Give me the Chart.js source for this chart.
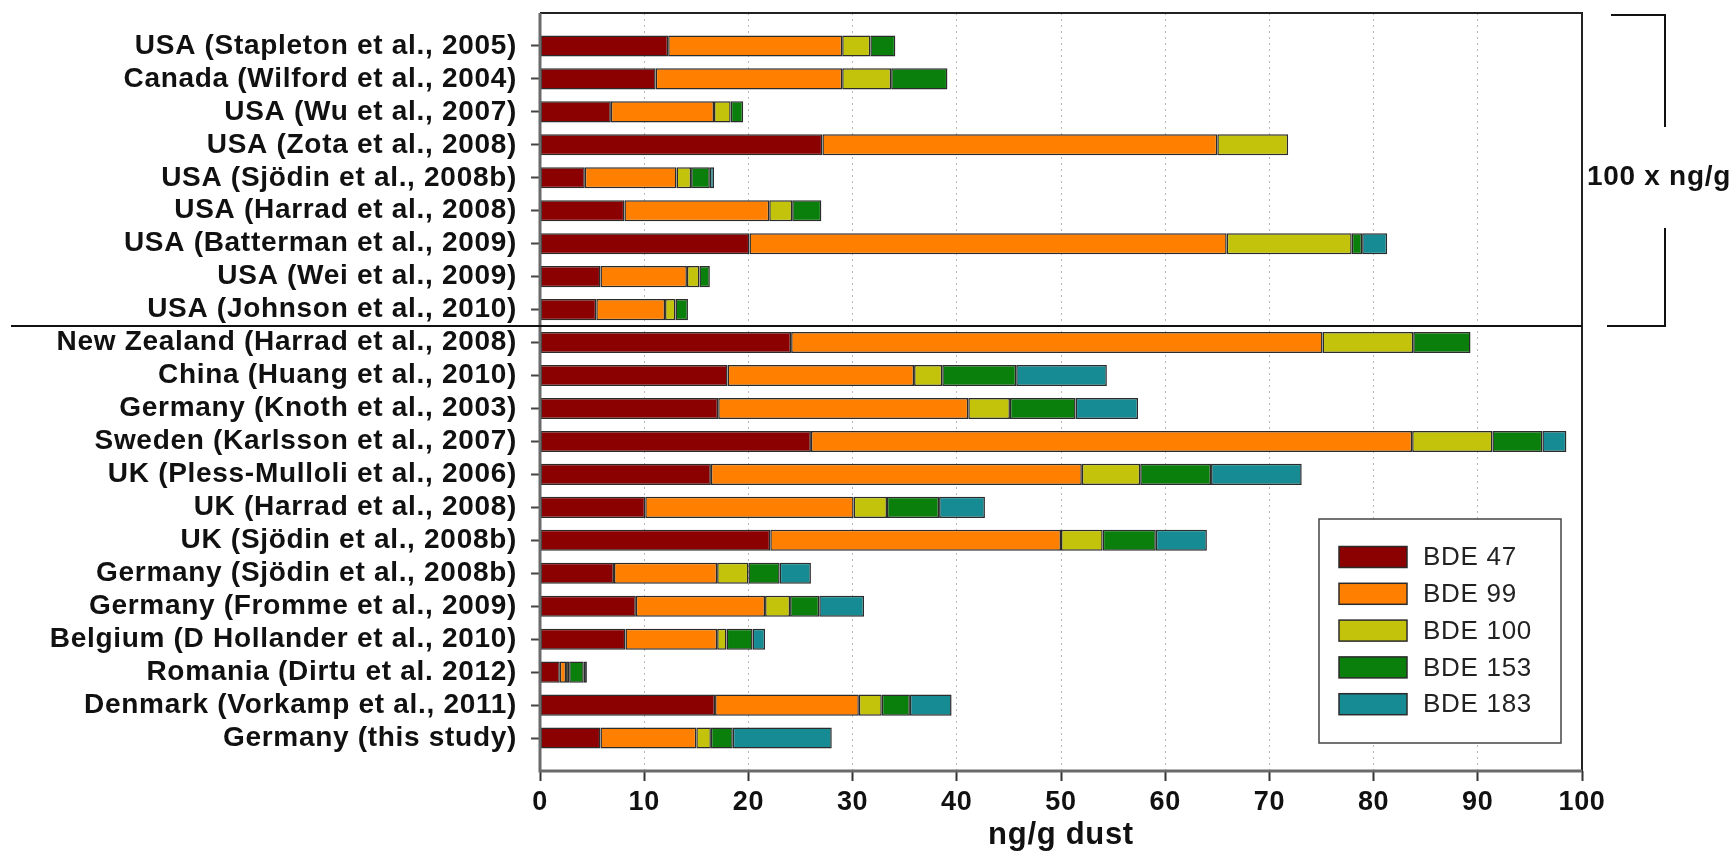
<!DOCTYPE html>
<html>
<head>
<meta charset="utf-8">
<script src="https://cdn.jsdelivr.net/npm/chart.js@4"></script>
<style>
  body { margin: 0; background: #fff; }
  canvas { display: block; }
</style>
</head>
<body>
<canvas id="chart" width="1733" height="856"></canvas>
<script>
// Studies, top to bottom (first 9 are plotted as 100 x ng/g)
const studies = [
    "USA (Stapleton et al., 2005)",
    "Canada (Wilford et al., 2004)",
    "USA (Wu et al., 2007)",
    "USA (Zota et al., 2008)",
    "USA (Sjödin et al., 2008b)",
    "USA (Harrad et al., 2008)",
    "USA (Batterman et al., 2009)",
    "USA (Wei et al., 2009)",
    "USA (Johnson et al., 2010)",
    "New Zealand (Harrad et al., 2008)",
    "China (Huang et al., 2010)",
    "Germany (Knoth et al., 2003)",
    "Sweden (Karlsson et al., 2007)",
    "UK (Pless-Mulloli et al., 2006)",
    "UK (Harrad et al., 2008)",
    "UK (Sjödin et al., 2008b)",
    "Germany (Sjödin et al., 2008b)",
    "Germany (Fromme et al., 2009)",
    "Belgium (D Hollander et al., 2010)",
    "Romania (Dirtu et al. 2012)",
    "Denmark (Vorkamp et al., 2011)",
    "Germany (this study)"
];

// Congener concentrations (ng/g dust)
const bde47  = [12.3, 11.1, 6.8, 27.1, 4.3, 8.1, 20.1, 5.8, 5.4, 24.1, 18.0, 17.1, 26.0, 16.4, 10.1, 22.1, 7.1, 9.2, 8.2, 1.9, 16.8, 5.8];
const bde99  = [16.7, 17.9, 9.9, 37.9, 8.8, 13.9, 45.8, 8.3, 6.6, 51.0, 17.9, 24.0, 57.7, 35.6, 20.0, 27.9, 9.9, 12.4, 8.8, 0.6, 13.8, 9.2];
const bde100 = [2.7, 4.7, 1.6, 6.8, 1.4, 2.2, 12.0, 1.2, 1.0, 8.7, 2.7, 4.0, 7.7, 5.6, 3.2, 4.0, 3.0, 2.4, 0.9, 0.3, 2.2, 1.4];
const bde153 = [2.4, 5.4, 1.2, null, 1.8, 2.8, 1.0, 1.0, 1.2, 5.5, 7.1, 6.3, 4.8, 6.8, 5.0, 5.1, 3.0, 2.8, 2.5, 1.4, 2.7, 2.1];
const bde183 = [null, null, null, null, 0.4, null, 2.4, null, null, null, 8.7, 6.0, 2.3, 8.7, 4.4, 4.9, 3.0, 4.3, 1.2, 0.3, 4.0, 9.5];

const seriesNames = ["BDE 47", "BDE 99", "BDE 100", "BDE 153", "BDE 183"];
const seriesColors = ["#8b0000", "#ff8000", "#c3c30c", "#0b7f0b", "#168b94"];
const xTicks = [0, 10, 20, 30, 40, 50, 60, 70, 80, 90, 100];
const scaledCount = 9; // rows shown as 100 x ng/g

const FONT = "'Liberation Sans', Arial, sans-serif";

// pad one empty slot at each end so rows sit like the original
const labels = ["", ...studies, ""];
const pad = arr => [null, ...arr, null];

const datasets = [bde47, bde99, bde100, bde153, bde183].map((vals, i) => ({
    label: seriesNames[i],
    data: pad(vals),
    backgroundColor: seriesColors[i],
    borderColor: "#2b2b2b",
    borderWidth: 1.5,
    borderSkipped: false,
    categoryPercentage: 0.64,
    barPercentage: 1.0
}));

// the original figure is a bit wide, stretch the text a little
const wideText = {
    id: "wideText",
    beforeDraw(chart) {
        chart.ctx.letterSpacing = "0.7px";
    }
};

// Frame, separator, bracket and legend
const decorations = {
    id: "decorations",
    afterDatasetsDraw(chart) {
        const ctx = chart.ctx;
        const a = chart.chartArea;
        const y = chart.scales.y;
        ctx.save();

        // plot frame
        ctx.lineWidth = 2;
        ctx.strokeStyle = "#222";
        ctx.beginPath();
        ctx.moveTo(a.left, a.top);
        ctx.lineTo(a.right, a.top);
        ctx.lineTo(a.right, a.bottom);
        ctx.stroke();
        ctx.lineWidth = 3;
        ctx.strokeStyle = "#6a6a6a";
        ctx.beginPath();
        ctx.moveTo(a.left, a.top);
        ctx.lineTo(a.left, a.bottom);
        ctx.lineTo(a.right, a.bottom);
        ctx.stroke();

        // separator between the two groups
        const sepY = (y.getPixelForValue(scaledCount) + y.getPixelForValue(scaledCount + 1)) / 2;
        ctx.lineWidth = 2;
        ctx.strokeStyle = "#111";
        ctx.beginPath();
        ctx.moveTo(11, sepY);
        ctx.lineTo(a.right, sepY);
        ctx.stroke();

        // bracket for the 100 x ng/g group
        const bx = a.right + 83;
        const topY = a.top + 2;
        const midY = 177;
        ctx.beginPath();
        ctx.moveTo(a.right + 29, topY);
        ctx.lineTo(bx, topY);
        ctx.lineTo(bx, midY - 50);
        ctx.moveTo(bx, midY + 51);
        ctx.lineTo(bx, sepY);
        ctx.lineTo(a.right + 25, sepY);
        ctx.stroke();
        ctx.fillStyle = "#111";
        ctx.font = "bold 28px " + FONT;
        ctx.textAlign = "center";
        ctx.textBaseline = "middle";
        ctx.fillText("100 x ng/g", bx - 6, midY);

        // legend box
        const lx = a.right - 263, ly = a.bottom - 252;
        const lw = 242, lh = 224;
        ctx.fillStyle = "#fff";
        ctx.fillRect(lx, ly, lw, lh);
        ctx.lineWidth = 1.5;
        ctx.strokeStyle = "#444";
        ctx.strokeRect(lx, ly, lw, lh);
        ctx.font = "26px " + FONT;
        ctx.textAlign = "left";
        chart.data.datasets.forEach((ds, i) => {
            const cy = ly + 38 + i * 36.8;
            ctx.fillStyle = ds.backgroundColor;
            ctx.fillRect(lx + 20, cy - 10.5, 68, 21);
            ctx.strokeStyle = "#2b2b2b";
            ctx.lineWidth = 1.5;
            ctx.strokeRect(lx + 20, cy - 10.5, 68, 21);
            ctx.fillStyle = "#222";
            ctx.fillText(ds.label, lx + 104, cy + 1);
        });
        ctx.restore();
    }
};

new Chart(document.getElementById("chart"), {
    type: "bar",
    data: { labels: labels, datasets: datasets },
    options: {
        indexAxis: "y",
        responsive: false,
        animation: false,
        devicePixelRatio: 1,
        layout: { padding: { top: 13, right: 151, bottom: 0, left: 0 } },
        plugins: {
            legend: { display: false },
            tooltip: { enabled: false }
        },
        scales: {
            x: {
                type: "linear",
                stacked: true,
                min: 0,
                max: 100,
                afterBuildTicks: scale => { scale.ticks = xTicks.map(v => ({ value: v })); },
                afterFit: scale => { scale.height = 85; },
                grid: {
                    color: "#b8b8b8",
                    lineWidth: 1,
                    drawTicks: true,
                    tickLength: 10,
                    tickColor: "#333",
                    tickWidth: 2
                },
                border: { display: false, dash: [2, 4] },
                ticks: {
                    color: "#111",
                    padding: 5,
                    maxRotation: 0,
                    font: { family: FONT, size: 27, weight: "bold" }
                },
                title: {
                    display: true,
                    text: "ng/g dust",
                    color: "#111",
                    padding: { top: 0, bottom: 5 },
                    font: { family: FONT, size: 31, weight: "bold", lineHeight: 1 }
                }
            },
            y: {
                type: "category",
                stacked: true,
                offset: false,
                afterFit: scale => {
                    scale.width = 540;
                    scale.paddingTop = 0;
                    scale.paddingBottom = 0;
                },
                grid: {
                    offset: false,
                    drawOnChartArea: false,
                    drawTicks: true,
                    tickLength: 9,
                    tickWidth: 2,
                    tickColor: c => (c.index === 0 || c.index > studies.length) ? "rgba(0,0,0,0)" : "#444"
                },
                border: { display: false },
                ticks: {
                    autoSkip: false,
                    color: "#111",
                    padding: 14,
                    font: { family: FONT, size: 28, weight: "bold" }
                }
            }
        }
    },
    plugins: [wideText, decorations]
});
</script>
</body>
</html>
